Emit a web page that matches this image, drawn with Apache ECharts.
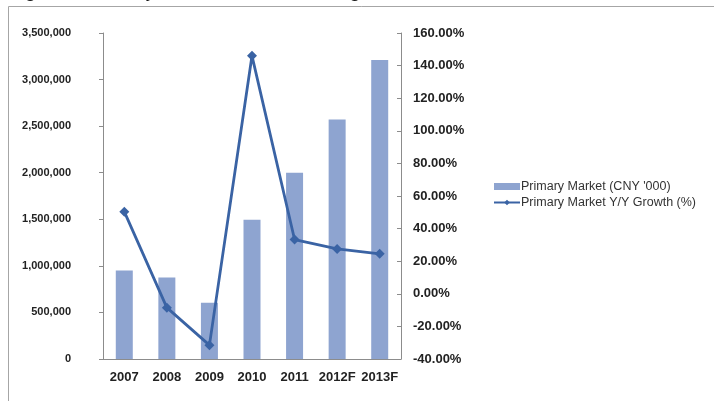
<!DOCTYPE html>
<html>
<head>
<meta charset="utf-8">
<script src="https://cdn.jsdelivr.net/npm/echarts@6/dist/echarts.min.js"></script>
<style>
  html, body { margin: 0; padding: 0; background: #fff; }
  #main { width: 714px; height: 401px; }
</style>
</head>
<body>
<div id="main"></div>
<script>
// 年份
var years = ['2007', '2008', '2009', '2010', '2011', '2012F', '2013F'];
// 一级市场规模 (CNY '000)
var marketSize = [950000, 875000, 605000, 1495000, 2000000, 2570000, 3210000];
// 同比增长 (%)
var growth = [50.4, -8.5, -31.5, 146.0, 33.3, 27.5, 24.5];
// 左右轴刻度
var leftTicks = [0, 3500000, 500000];
var rightTicks = [-40, 160, 20];

var chart = echarts.init(document.getElementById('main'));

var option = {
    animation: false,
    backgroundColor: '#fff',
    graphic: [
        {
            type: 'rect',
            shape: { x: 8.5, y: 6.5, width: 720, height: 420 },
            style: { fill: 'none', stroke: '#a6a6a6', lineWidth: 1 }
        },
        {
            type: 'text',
            left: 8,
            top: -19,
            style: {
                text: 'Figure 3 Primary Market Scale and Its growth rate',
                font: '20px "Liberation Sans"',
                fill: '#111'
            }
        }
    ],
    grid: {
        left: 103,
        right: 313,
        top: 33,
        bottom: 42
    },
    legend: {
        orient: 'vertical',
        left: 488,
        top: 175,
        itemWidth: 26,
        itemHeight: 7,
        itemGap: 3,
        textStyle: {
            fontFamily: 'Liberation Sans',
            fontSize: 12.5,
            color: '#333',
            padding: [0, 0, 0, -4]
        },
        data: [
            { name: "Primary Market (CNY '000)", icon: 'rect' },
            { name: 'Primary Market Y/Y Growth (%)' }
        ]
    },
    xAxis: {
        type: 'category',
        data: years,
        axisLine: { lineStyle: { color: '#8c8c8c' } },
        axisTick: { inside: true, length: 4, lineStyle: { color: '#8c8c8c' } },
        axisLabel: {
            interval: 0,
            fontFamily: 'Liberation Sans',
            fontWeight: 'bold',
            fontSize: 13,
            color: '#222',
            margin: 12
        }
    },
    yAxis: [
        {
            type: 'value',
            min: leftTicks[0],
            max: leftTicks[1],
            interval: leftTicks[2],
            splitLine: { show: false },
            axisLine: { show: true, lineStyle: { color: '#8c8c8c' } },
            axisTick: { show: true, length: 4, lineStyle: { color: '#8c8c8c' } },
            axisLabel: {
                fontFamily: 'Liberation Sans',
                fontWeight: 'bold',
                fontSize: 11,
                color: '#222',
                margin: 32,
                align: 'right',
                formatter: function (v) {
                    return v.toString().replace(/\B(?=(\d{3})+(?!\d))/g, ',');
                }
            }
        },
        {
            type: 'value',
            min: rightTicks[0],
            max: rightTicks[1],
            interval: rightTicks[2],
            splitLine: { show: false },
            axisLine: { show: true, lineStyle: { color: '#8c8c8c' } },
            axisTick: { show: true, inside: true, length: 4, lineStyle: { color: '#8c8c8c' } },
            axisLabel: {
                fontFamily: 'Liberation Sans',
                fontWeight: 'bold',
                fontSize: 13,
                color: '#222',
                margin: 12,
                formatter: function (v) {
                    return v.toFixed(2) + '%';
                }
            }
        }
    ],
    series: [
        {
            name: "Primary Market (CNY '000)",
            type: 'bar',
            data: marketSize,
            barWidth: 17,
            itemStyle: { color: '#8ea4d0' }
        },
        {
            name: 'Primary Market Y/Y Growth (%)',
            type: 'line',
            yAxisIndex: 1,
            data: growth,
            symbol: 'diamond',
            symbolSize: 10,
            lineStyle: { color: '#3a63a4', width: 2.8 },
            itemStyle: { color: '#3a63a4' }
        }
    ]
};

chart.setOption(option);
</script>
</body>
</html>
